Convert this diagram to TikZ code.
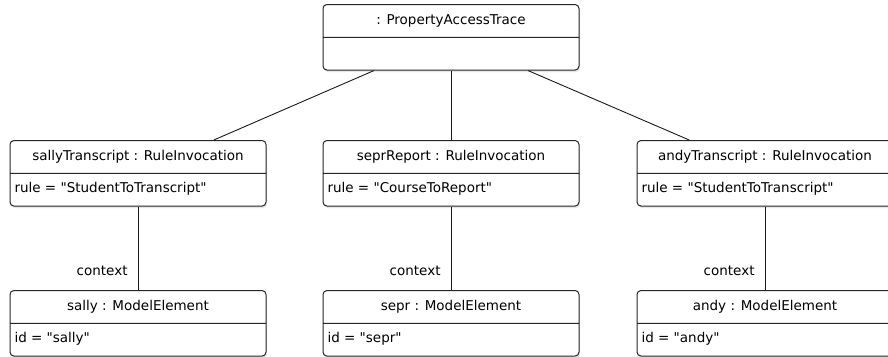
\documentclass[tikz,border=0pt]{standalone}
\usepackage{fontspec}
\newfontfamily\umlfont{DejaVu Sans}
\usepackage{tikz}
\usetikzlibrary{shapes.multipart,shadows}
\usetikzlibrary{calc,positioning}
\tikzstyle{object}=[rectangle split,rectangle split parts=2,draw=black!85,line width=1pt,fill=white,rounded corners=4pt,minimum width=256pt,inner xsep=4.5pt,inner ysep=7.8pt,rectangle split part align={center,left},font=\umlfont\fontsize{13.5}{16.2}\selectfont,drop shadow={shadow xshift=1pt,shadow yshift=-2pt,opacity=0.2},anchor=north]
\tikzstyle{link}=[draw=black!90,line width=0.9pt]
\tikzstyle{role}=[anchor=south east,xshift=-7pt,yshift=11pt,inner sep=3pt,font=\umlfont\fontsize{13.5}{16.2}\selectfont]

\begin{document}
\begin{tikzpicture}[x=1pt,y=-1pt]
 \useasboundingbox (0,0) rectangle (888,356);

 \node[object] (trace) at (451,4) {\strut: PropertyAccessTrace \nodepart{two}\strut};

 \node[object] (sallyT) at (138,140) {\strut sallyTranscript : RuleInvocation \nodepart{two}\strut rule = "StudentToTranscript"};
 \node[object] (seprR) at (451,140) {\strut seprReport : RuleInvocation \nodepart{two}\strut rule = "CourseToReport"};
 \node[object] (andyT) at (765,140) {\strut andyTranscript : RuleInvocation \nodepart{two}\strut rule = "StudentToTranscript"};

 \node[object] (sally) at (138,290) {\strut sally : ModelElement \nodepart{two}\strut id = "sally"};
 \node[object] (sepr) at (451,290) {\strut sepr : ModelElement \nodepart{two}\strut id = "sepr"};
 \node[object] (andy) at (765,290) {\strut andy : ModelElement \nodepart{two}\strut id = "andy"};

\path
($(trace.south west)!0.2!(trace.south east)$) edge [link] ($(sallyT.north west)!0.795!(sallyT.north east)$)
(trace.south) edge [link] (seprR.north)
($(trace.south west)!0.8!(trace.south east)$) edge [link] ($(andyT.north west)!0.205!(andyT.north east)$)

(sallyT.south) edge [link] node[role,pos=1] {context} (sally.north)
(seprR.south) edge [link] node[role,pos=1] {context} (sepr.north)
(andyT.south) edge [link] node[role,pos=1] {context} (andy.north);

\end{tikzpicture}
\end{document}
